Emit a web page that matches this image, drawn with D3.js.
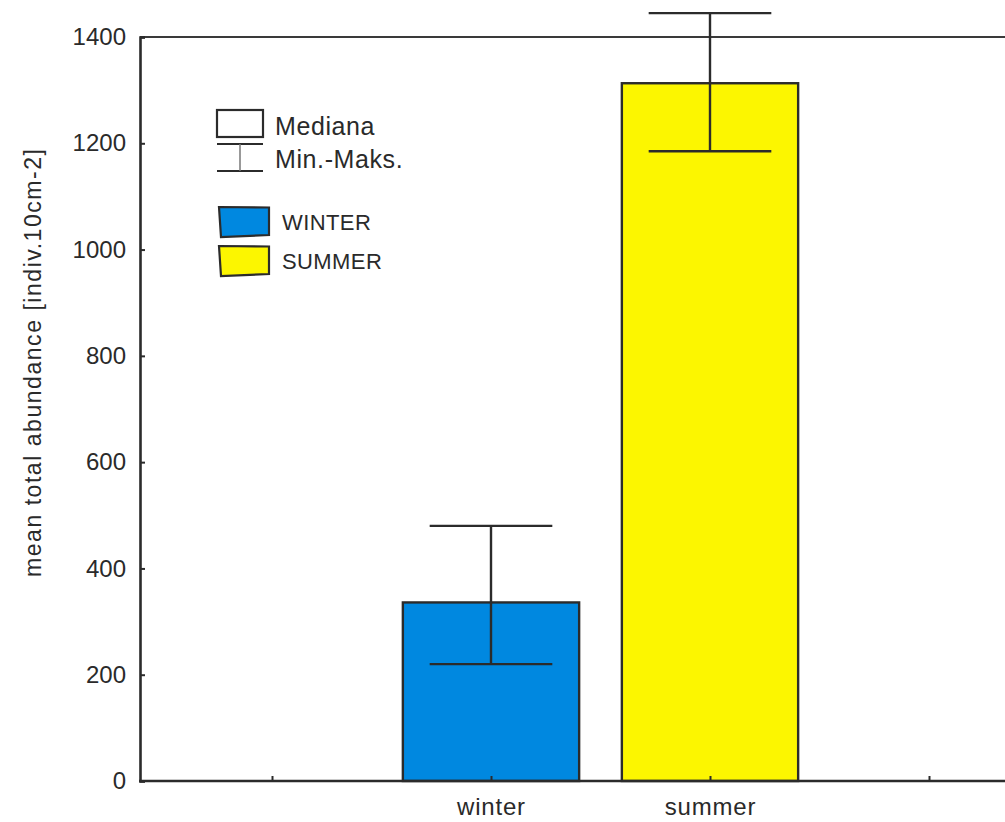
<!DOCTYPE html>
<html>
<head>
<meta charset="utf-8">
<script src="https://cdn.jsdelivr.net/npm/d3@7"></script>
<style>
  body { margin: 0; background: #fff; }
  svg { display: block; font-family: "Liberation Sans", Arial, sans-serif; }
</style>
</head>
<body>
<div id="chart"></div>
<script>
// categories on the x axis (outer two are empty slots)
const categories = ["", "winter", "summer", " "];
const seasons = ["winter", "summer"];
const medians = [336, 1313];
const mins = [220, 1185];
const maxs = [480, 1445];
const colors = ["#0088e0", "#fcf600"];
const legendSeries = ["WINTER", "SUMMER"];
const yTicks = [0, 200, 400, 600, 800, 1000, 1200, 1400];

const width = 1005, height = 822;
const margin = { top: 37, right: 0, bottom: 41, left: 140 };
const ink = "#2b2b2b";

const svg = d3.select("#chart").append("svg")
    .attr("width", width)
    .attr("height", height);

const y = d3.scaleLinear()
    .domain([0, 1400])
    .range([height - margin.bottom, margin.top]);

const x = d3.scalePoint()
    .domain(categories)
    .range([272, 929]);

const barW = x.step() * 0.805;
const capW = x.step() * 0.56;

// frame: top line
svg.append("line")
    .attr("x1", margin.left).attr("x2", width)
    .attr("y1", y(1400)).attr("y2", y(1400))
    .attr("stroke", "#3a3a3a").attr("stroke-width", 2.2);

// bars
const bars = svg.append("g");
seasons.forEach((s, i) => {
    bars.append("rect")
        .attr("x", x(s) - barW / 2)
        .attr("y", y(medians[i]))
        .attr("width", barW)
        .attr("height", y(0) - y(medians[i]))
        .attr("fill", colors[i])
        .attr("stroke", ink)
        .attr("stroke-width", 2.4);
});

// min-max whiskers
const whisk = svg.append("g").attr("stroke", ink).attr("stroke-width", 2.4);
seasons.forEach((s, i) => {
    whisk.append("line")
        .attr("x1", x(s)).attr("x2", x(s))
        .attr("y1", y(maxs[i])).attr("y2", y(mins[i]));
    [maxs[i], mins[i]].forEach(v => {
        whisk.append("line")
            .attr("x1", x(s) - capW / 2).attr("x2", x(s) + capW / 2)
            .attr("y1", y(v)).attr("y2", y(v));
    });
});

// y axis
const yAxis = svg.append("g")
    .attr("transform", `translate(${margin.left},0)`)
    .call(d3.axisLeft(y).tickValues(yTicks).tickSize(-5).tickPadding(14).tickFormat(d3.format("d")));
yAxis.select(".domain").attr("stroke", ink).attr("stroke-width", 2.6);
yAxis.selectAll(".tick line").attr("stroke", ink).attr("stroke-width", 2);
yAxis.selectAll(".tick text")
    .attr("font-size", 24)
    .attr("fill", "#2a2a2a")
    .attr("font-family", "Liberation Sans, Arial, sans-serif");

// x axis
const xAxis = svg.append("g")
    .attr("transform", `translate(0,${y(0)})`)
    .call(d3.axisBottom(x).tickSize(-5).tickPadding(17).tickSizeOuter(0));
xAxis.select(".domain").remove();
svg.append("line")
    .attr("x1", margin.left - 1).attr("x2", width)
    .attr("y1", y(0)).attr("y2", y(0))
    .attr("stroke", ink).attr("stroke-width", 2.6);
xAxis.selectAll(".tick line").attr("stroke", ink).attr("stroke-width", 2);
xAxis.selectAll(".tick text")
    .attr("font-size", 24)
    .attr("letter-spacing", 0.8)
    .attr("fill", "#2a2a2a")
    .attr("font-family", "Liberation Sans, Arial, sans-serif");

// y title
svg.append("text")
    .attr("transform", `translate(41,363) rotate(-90)`)
    .attr("text-anchor", "middle")
    .attr("font-size", 23)
    .attr("textLength", 428)
    .attr("lengthAdjust", "spacing")
    .attr("fill", "#2a2a2a")
    .text("mean total abundance [indiv.10cm-2]");

// legend
const lg = svg.append("g").attr("transform", "translate(217,110)");
lg.append("rect")
    .attr("x", 0).attr("y", 0).attr("width", 46).attr("height", 27)
    .attr("fill", "#fff").attr("stroke", ink).attr("stroke-width", 2.2);
lg.append("text").attr("x", 58).attr("y", 25).attr("font-size", 25)
    .attr("letter-spacing", 0.6)
    .attr("fill", "#2a2a2a").text("Mediana");
lg.append("line").attr("x1", 0).attr("x2", 46).attr("y1", 34).attr("y2", 34)
    .attr("stroke", ink).attr("stroke-width", 2);
lg.append("line").attr("x1", 0).attr("x2", 46).attr("y1", 61).attr("y2", 61)
    .attr("stroke", ink).attr("stroke-width", 2);
lg.append("line").attr("x1", 23).attr("x2", 23).attr("y1", 34).attr("y2", 61)
    .attr("stroke", "#777").attr("stroke-width", 1.5);
lg.append("text").attr("x", 58).attr("y", 58).attr("font-size", 25)
    .attr("letter-spacing", 0.6)
    .attr("fill", "#2a2a2a").text("Min.-Maks.");

legendSeries.forEach((name, i) => {
    const gy = 97 + i * 39;
    lg.append("path")
        .attr("d", `M2,${gy} L52,${gy + 0.5} L52,${gy + 28} L4,${gy + 30} Z`)
        .attr("fill", colors[i])
        .attr("stroke", ink)
        .attr("stroke-width", 2.2);
    lg.append("text").attr("x", 65).attr("y", gy + 23).attr("font-size", 22)
        .attr("letter-spacing", 0.4)
        .attr("fill", "#2a2a2a").text(name);
});
</script>
</body>
</html>
